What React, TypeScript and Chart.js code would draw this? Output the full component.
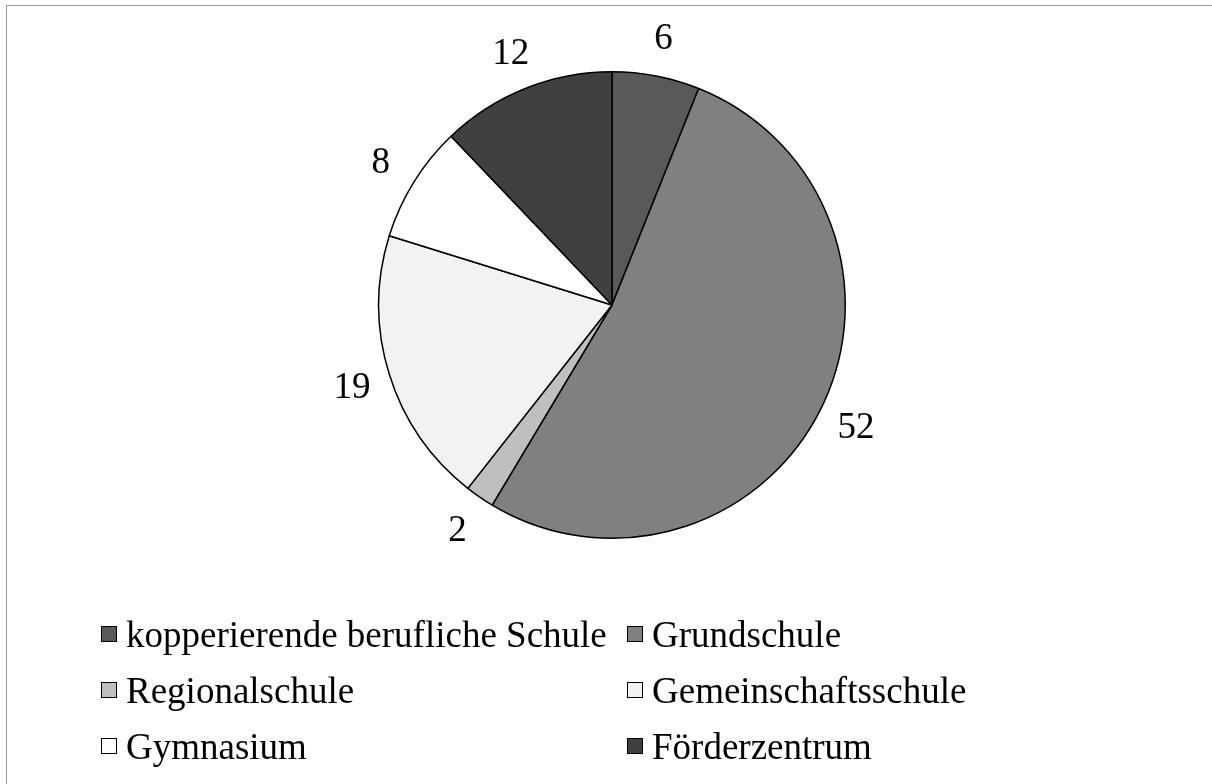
import React, { useEffect, useRef } from "react";
import { Chart, registerables } from "chart.js";

Chart.register(...registerables);

const categories = [
  "kopperierende berufliche Schule",
  "Grundschule",
  "Regionalschule",
  "Gemeinschaftsschule",
  "Gymnasium",
  "Förderzentrum",
];
const values = [6, 52, 2, 19, 8, 12];
const colors = ["#595959", "#808080", "#bfbfbf", "#f2f2f2", "#ffffff", "#404040"];

const FONT = '"Liberation Serif", "Times New Roman", serif';

const outsideLabels = {
  id: "outsideLabels",
  afterDatasetsDraw(chart: any) {
    const ctx = chart.ctx;
    const meta = chart.getDatasetMeta(0);
    const data = chart.data.datasets[0].data;
    ctx.save();
    ctx.font = `37px ${FONT}`;
    ctx.fillStyle = "#000";
    ctx.textAlign = "center";
    ctx.textBaseline = "middle";
    meta.data.forEach((arc: any, i: number) => {
      const p = arc.getProps(["x", "y", "startAngle", "endAngle", "outerRadius"], true);
      const mid = (p.startAngle + p.endAngle) / 2;
      const r = p.outerRadius + 39;
      ctx.fillText(String(data[i]), p.x + Math.cos(mid) * r, p.y + Math.sin(mid) * r + 2);
    });
    ctx.restore();
  },
};

export default function App() {
  const canvasRef = useRef<HTMLCanvasElement | null>(null);

  useEffect(() => {
    if (!canvasRef.current) return;
    const chart = new Chart(canvasRef.current, {
      type: "pie",
      data: {
        labels: categories,
        datasets: [
          {
            data: values,
            backgroundColor: colors,
            borderColor: "#000000",
            borderWidth: 1.5,
          },
        ],
      },
      options: {
        animation: false,
        responsive: false,
        maintainAspectRatio: false,
        layout: { padding: { left: 378, right: 366, top: 71, bottom: 245 } },
        plugins: {
          legend: { display: false },
          tooltip: { enabled: false },
        },
      },
      plugins: [outsideLabels],
    });
    return () => chart.destroy();
  }, []);

  return (
    <div
      style={{
        position: "fixed",
        left: 0,
        top: 0,
        width: 1212,
        height: 784,
        overflow: "hidden",
        background: "#fff",
      }}
    >
      <div
        style={{
          position: "absolute",
          left: 6,
          top: 5,
          width: 1300,
          height: 900,
          border: "1px solid #9a9a9a",
          boxSizing: "border-box",
        }}
      />
      <canvas
        ref={canvasRef}
        width={1212}
        height={784}
        style={{ position: "absolute", left: 0, top: 0, width: 1212, height: 784 }}
      />
      <div
        style={{
          position: "absolute",
          left: 101,
          top: 606,
          display: "grid",
          gridTemplateColumns: "526px 450px",
          gridAutoRows: "56px",
          fontFamily: FONT,
          fontSize: 37,
          color: "#000",
          whiteSpace: "nowrap",
        }}
      >
        {categories.map((c, i) => (
          <div key={c} style={{ display: "flex", alignItems: "center", gap: 9 }}>
            <span
              style={{
                display: "inline-block",
                width: 16,
                height: 16,
                boxSizing: "border-box",
                border: "1px solid #000",
                background: colors[i],
                flex: "none",
              }}
            />
            <span>{c}</span>
          </div>
        ))}
      </div>
    </div>
  );
}
